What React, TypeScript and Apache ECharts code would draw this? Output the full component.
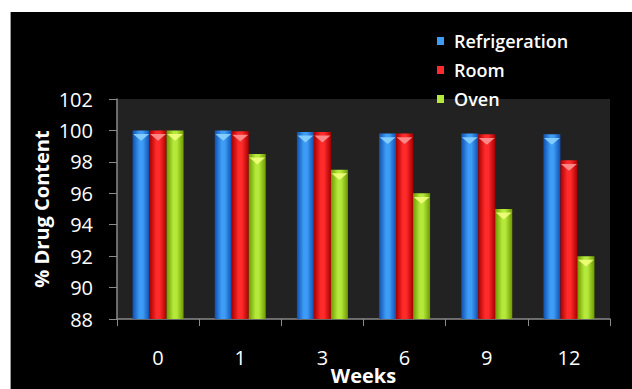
import React, { useEffect, useRef } from "react";
import * as echarts from "echarts";

const categories = ["0", "1", "3", "6", "9", "12"];
const refrigeration = [100, 100, 99.9, 99.8, 99.8, 99.75];
const room = [100, 99.95, 99.9, 99.8, 99.75, 98.1];
const oven = [100, 98.5, 97.5, 96.0, 95.0, 92.0];
const yTicks = { min: 88, max: 102, interval: 2 };

const seriesNames = ["Refrigeration", "Room", "Oven"];
const seriesData = [refrigeration, room, oven];
const palette = [
  { edge: "#0f4fb0", mid: "#3d9cf5", tip: "#8fd6ff" },
  { edge: "#a80000", mid: "#ff2a2a", tip: "#ff9a9a" },
  { edge: "#6e9a00", mid: "#b4e83a", tip: "#f4ff80" },
];

function grad(p: { edge: string; mid: string }) {
  return new echarts.graphic.LinearGradient(0, 0, 1, 0, [
    { offset: 0, color: p.edge },
    { offset: 0.4, color: p.mid },
    { offset: 0.6, color: p.mid },
    { offset: 1, color: p.edge },
  ]);
}

export default function App() {
  const ref = useRef<HTMLDivElement>(null);
  useEffect(() => {
    if (!ref.current) return;
    const chart = echarts.init(ref.current, undefined, { renderer: "svg" });
    const font = "'Open Sans', Lato, sans-serif";
    const bars: any[] = seriesNames.map((n, i) => ({
      name: n,
      type: "bar",
      data: seriesData[i],
      barWidth: 17,
      barGap: "0%",
      itemStyle: { color: grad(palette[i]) },
    }));
    const tips: any[] = seriesNames.map((n, i) => ({
      name: n + " tip",
      type: "pictorialBar",
      data: seriesData[i],
      symbol: "triangle",
      symbolRotate: 180,
      symbolSize: [16, 7],
      symbolPosition: "end",
      symbolOffset: [0, "50%"],
      barWidth: 17,
      barGap: "0%",
      itemStyle: { color: palette[i].tip, opacity: 0.85 },
      z: 3,
      silent: true,
    }));
    chart.setOption({
      animation: false,
      backgroundColor: "#000",
      textStyle: { fontFamily: font },
      legend: {
        data: seriesNames.map((n, i) => ({
          name: n,
          itemStyle: { color: palette[i].mid },
        })),
        orient: "vertical",
        left: 421,
        top: 15,
        itemWidth: 7,
        itemHeight: 8,
        itemGap: 11,
        icon: "rect",
        textStyle: {
          color: "#fff",
          fontSize: 18,
          fontWeight: 600,
          fontFamily: font,
          padding: [0, 0, 0, 5],
        },
      },
      grid: {
        left: 106,
        right: 22,
        top: 87,
        bottom: 70,
        show: true,
        backgroundColor: "#222222",
        borderWidth: 0,
        outerBoundsMode: "none",
        containLabel: false,
      },
      xAxis: {
        type: "category",
        data: categories,
        name: "Weeks",
        nameLocation: "middle",
        nameGap: 46,
        nameMoveOverlap: false,
        nameTextStyle: {
          color: "#fff",
          fontSize: 20,
          fontWeight: "bold",
          fontFamily: font,
        },
        axisLine: { lineStyle: { color: "#8a8a8a", width: 1.5 } },
        axisTick: { show: true, length: 7, lineStyle: { color: "#8a8a8a" } },
        axisLabel: { color: "#fff", fontSize: 20, margin: 28, fontFamily: font },
      },
      yAxis: {
        type: "value",
        min: yTicks.min,
        max: yTicks.max,
        interval: yTicks.interval,
        name: "% Drug Content",
        nameLocation: "middle",
        nameRotate: 90,
        nameGap: 66,
        nameMoveOverlap: false,
        nameTextStyle: {
          color: "#fff",
          fontSize: 20,
          fontWeight: "bold",
          fontFamily: font,
        },
        axisLine: { show: true, lineStyle: { color: "#8a8a8a", width: 1.5 } },
        axisTick: { show: true, length: 8, lineStyle: { color: "#8a8a8a" } },
        splitLine: { show: false },
        axisLabel: { color: "#fff", fontSize: 20, margin: 24, fontFamily: font },
      },
      series: [...bars, ...tips],
    });
    return () => chart.dispose();
  }, []);
  return (
    <div
      style={{
        position: "fixed",
        left: 0,
        top: 0,
        width: 632,
        height: 389,
        background: "#fff",
      }}
    >
      <div
        style={{
          position: "absolute",
          left: 10,
          top: 12,
          width: 622,
          height: 377,
          borderLeft: "1px solid #999",
          boxSizing: "border-box",
          background: "#000",
        }}
      >
        <div ref={ref} style={{ width: 621, height: 377 }} />
      </div>
    </div>
  );
}
